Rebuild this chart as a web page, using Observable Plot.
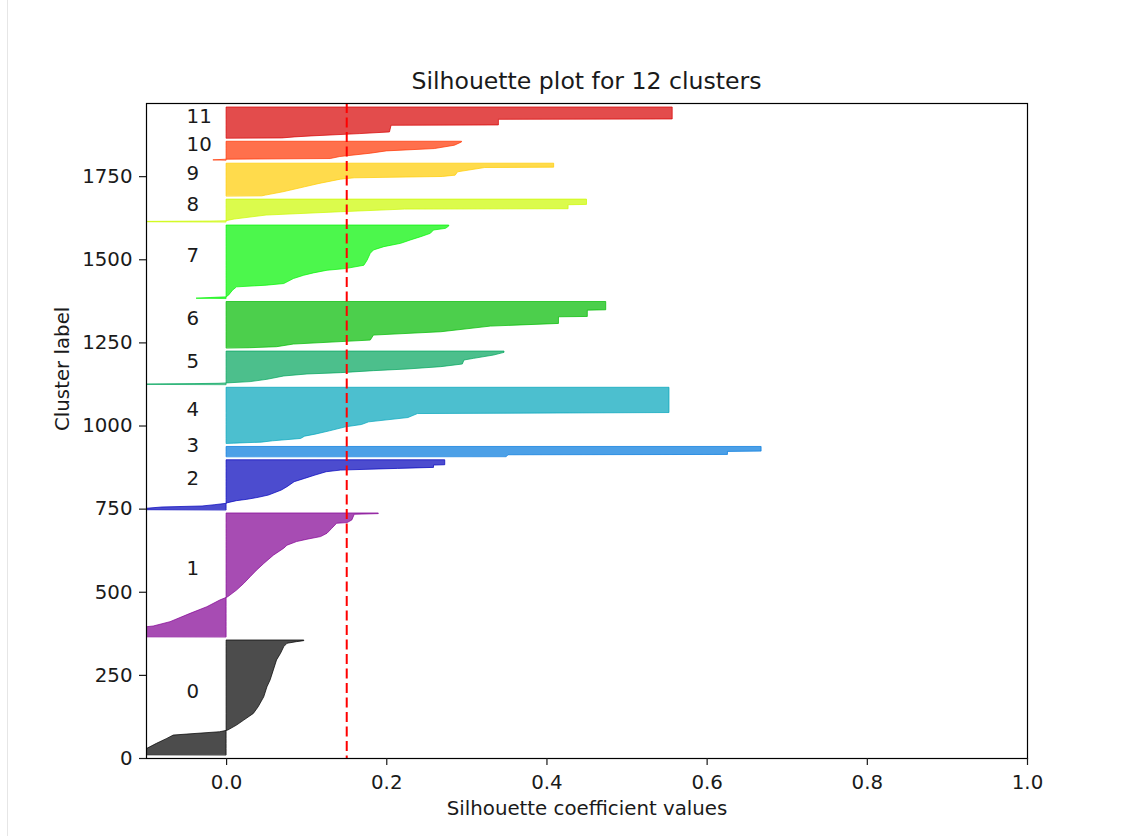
<!DOCTYPE html>
<html>
<head>
<meta charset="utf-8">
<script src="https://cdn.jsdelivr.net/npm/d3@7"></script>
<script src="https://cdn.jsdelivr.net/npm/@observablehq/plot@0.6"></script>
<style>
html, body { margin: 0; padding: 0; background: #fff; }
body { width: 1130px; height: 836px; position: relative; overflow: hidden; font-family: "DejaVu Sans", sans-serif; }
#edge { position: absolute; left: 7px; top: 0; width: 1px; height: 836px; background: #e6e6e6; }
#title { height: 93px; position: relative; }
#title span { position: absolute; left: 146px; width: 881px; top: 70px; text-align: center; font-size: 23.6px; line-height: 1; color: #1a1a1a; white-space: nowrap; }
</style>
</head>
<body>
<div id="edge"></div>
<div id="title"><span>Silhouette plot for 12 clusters</span></div>
<div id="chart"></div>
<script>
// ---- data: [sample index, silhouette coefficient] outline points, sorted ascending within each cluster ----
const clusterLabels = ["0", "1", "2", "3", "4", "5", "6", "7", "8", "9", "10", "11"];
const clusterColors = ["#000000", "#820093", "#0000bb", "#0077dd", "#00a4bb", "#00a45b",
                       "#00bb00", "#00f400", "#ccf900", "#ffcc00", "#ff3300", "#d70000"];

const cluster0 = [[10,-0.12],[29,-0.099],[44,-0.087],[59,-0.074],[69,-0.066],[72,-0.049],[79,-0.008],[84,0.002],[99,0.013],[114,0.022],[134,0.034],[154,0.040],[184,0.047],[214,0.051],[235,0.055],[265,0.059],[295,0.063],[315,0.068],[335,0.072],[345,0.076],[350,0.088],[353,0.097],[355,0.097]];
const cluster1 = [[365,-0.12],[395,-0.099],[397,-0.091],[410,-0.07],[435,-0.045],[455,-0.024],[475,-0.008],[485,0.002],[505,0.013],[525,0.022],[545,0.03],[565,0.038],[585,0.047],[610,0.059],[631,0.072],[640,0.076],[651,0.088],[658,0.101],[666,0.118],[676,0.126],[691,0.132],[706,0.138],[708,0.151],[716,0.157],[733,0.16],[735,0.19],[737,0.19]];
const cluster2 = [[747,-0.12],[751,-0.1],[755,-0.08],[758,-0.03],[762,-0.014],[766,0.0],[768,0.002],[774,0.013],[778,0.026],[784,0.04],[791,0.053],[806,0.069],[816,0.076],[831,0.085],[841,0.098],[851,0.111],[861,0.125],[866,0.143],[871,0.214],[874,0.259],[881,0.259],[882,0.273],[897,0.273]];
const cluster3 = [[907,0.35],[912,0.352],[913,0.626],[922,0.626],[923,0.668],[937,0.668]];
const cluster4 = [[947,0.01],[950,0.044],[954,0.058],[961,0.093],[968,0.098],[974,0.111],[984,0.129],[996,0.149],[1003,0.169],[1011,0.178],[1024,0.227],[1036,0.239],[1039,0.553],[1115,0.553]];
const cluster5 = [[1124,-0.15],[1125,-0.1],[1126,-0.04],[1127,-0.01],[1128,0.0],[1132,0.03],[1139,0.051],[1149,0.072],[1155,0.101],[1159,0.143],[1165,0.184],[1170,0.226],[1177,0.268],[1185,0.295],[1197,0.297],[1202,0.309],[1212,0.334],[1220,0.347],[1224,0.347]];
const cluster6 = [[1234,0.03],[1237,0.063],[1245,0.084],[1257,0.18],[1272,0.184],[1282,0.268],[1299,0.33],[1307,0.415],[1327,0.415],[1328,0.451],[1347,0.451],[1348,0.474],[1373,0.474]];
const cluster7 = [[1383,-0.037],[1385,-0.02],[1387,0.0],[1392,0.003],[1407,0.008],[1417,0.013],[1422,0.05],[1427,0.072],[1442,0.084],[1452,0.097],[1459,0.109],[1467,0.126],[1472,0.149],[1482,0.172],[1497,0.176],[1518,0.18],[1528,0.184],[1538,0.197],[1548,0.218],[1558,0.23],[1568,0.243],[1578,0.255],[1588,0.259],[1593,0.274],[1600,0.278],[1603,0.278]];
const cluster8 = [[1613,-0.12],[1614,-0.1],[1615,-0.02],[1616,0.0],[1621,0.01],[1633,0.05],[1643,0.143],[1651,0.223],[1652,0.427],[1664,0.427],[1665,0.45],[1681,0.45]];
const cluster9 = [[1691,0.045],[1693,0.049],[1703,0.071],[1718,0.098],[1728,0.116],[1741,0.143],[1745,0.16],[1749,0.27],[1753,0.286],[1763,0.289],[1776,0.323],[1777,0.409],[1789,0.409]];
const cluster10 = [[1799,-0.016],[1801,0.0],[1803,0.13],[1809,0.142],[1819,0.18],[1826,0.2],[1833,0.26],[1843,0.285],[1853,0.294],[1855,0.294]];
const cluster11 = [[1865,0.07],[1868,0.085],[1871,0.106],[1878,0.167],[1883,0.204],[1903,0.206],[1904,0.34],[1921,0.34],[1922,0.557],[1958,0.557]];

const averageSilhouette = 0.15;
const xTicks = [0.0, 0.2, 0.4, 0.6, 0.8, 1.0];
const yTicks = [0, 250, 500, 750, 1000, 1250, 1500, 1750];
const xDomain = [-0.1, 1.0];
const yDomain = [0, 1970];

const profiles = [cluster0, cluster1, cluster2, cluster3, cluster4, cluster5,
                  cluster6, cluster7, cluster8, cluster9, cluster10, cluster11];

const labelData = profiles.map((p, i) => ({
  label: clusterLabels[i],
  y: (p[0][0] + p[p.length - 1][0]) / 2
}));

const FS = 19.8;
const marks = [];
profiles.forEach((p, i) => {
  marks.push(Plot.areaX(p, {
    y: d => d[0], x1: 0, x2: d => d[1],
    fill: clusterColors[i], fillOpacity: 0.7,
    stroke: clusterColors[i], strokeOpacity: 0.7, strokeWidth: 1,
    curve: "linear", clip: true
  }));
});
marks.push(Plot.text(labelData, {
  x: -0.05, y: "y", text: "label", textAnchor: "start", lineAnchor: "bottom",
  fontSize: FS, fill: "#1a1a1a"
}));
marks.push(Plot.ruleX([averageSilhouette], {stroke: "#ff0000", strokeWidth: 2, strokeDasharray: "10,4.5"}));
marks.push(Plot.frame({stroke: "#000", strokeWidth: 1.2}));
marks.push(Plot.axisX({ticks: xTicks, tickFormat: d => d.toFixed(1), tickSize: 7, tickPadding: 9, label: null, fontSize: FS, strokeWidth: 1.2}));
marks.push(Plot.axisY({ticks: yTicks, tickFormat: d => String(d), tickSize: 7, tickPadding: 7, label: null, fontSize: FS, strokeWidth: 1.2}));
marks.push(Plot.text(["Silhouette coefficient values"], {text: d => d, frameAnchor: "bottom", dy: 56, lineAnchor: "bottom", fontSize: FS, fill: "#1a1a1a"}));
marks.push(Plot.text(["Cluster label"], {text: d => d, frameAnchor: "left", dx: -84, rotate: -90, lineAnchor: "middle", fontSize: FS, fill: "#1a1a1a"}));

const chart = Plot.plot({
  width: 1130,
  height: 743,
  marginTop: 10,
  marginBottom: 78,
  marginLeft: 146,
  marginRight: 103,
  x: {domain: xDomain, label: null},
  y: {domain: yDomain, label: null},
  style: {fontFamily: "'DejaVu Sans', sans-serif", fontSize: FS + "px", color: "#1a1a1a", background: "#fff", overflow: "visible"},
  marks
});
document.getElementById("chart").appendChild(chart);
</script>
</body>
</html>
